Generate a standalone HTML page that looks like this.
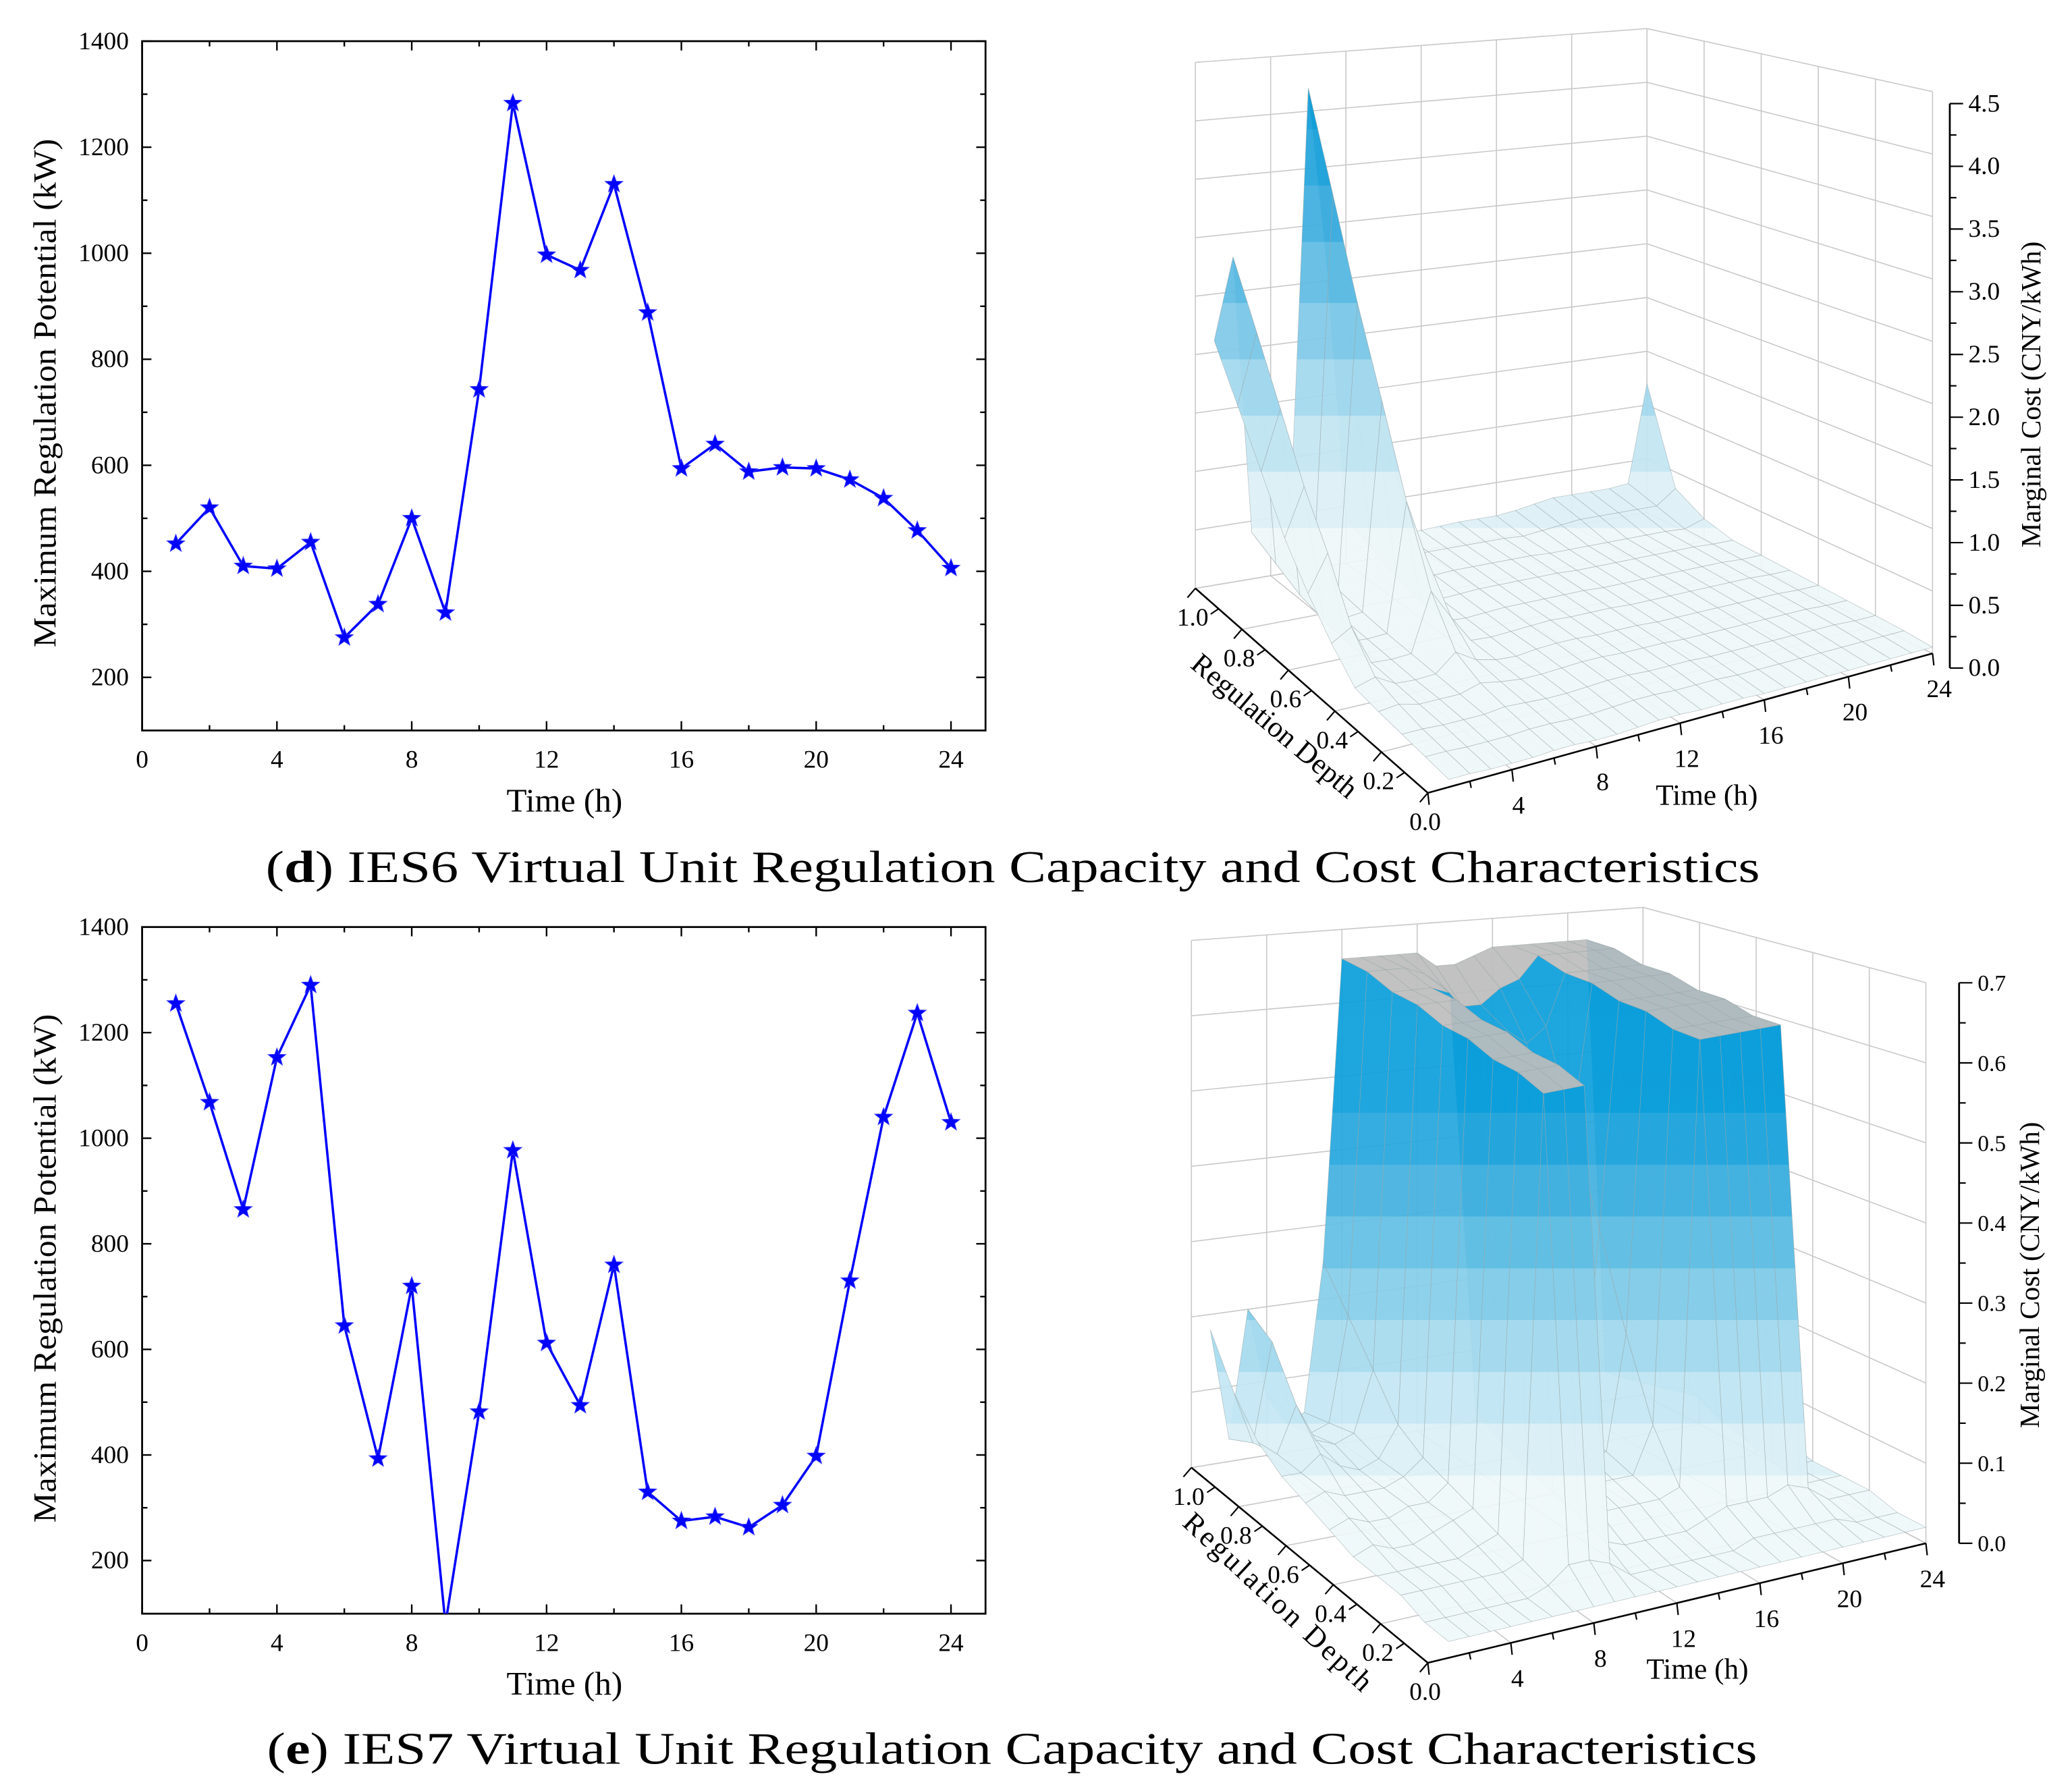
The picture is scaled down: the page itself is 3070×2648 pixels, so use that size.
<!DOCTYPE html>
<html><head><meta charset="utf-8">
<style>
html,body{margin:0;padding:0;background:#fff;}
svg{display:block;}
text{font-family:"Liberation Serif",serif;fill:#000;}
</style></head>
<body>
<svg id="fig" width="3070" height="2648" viewBox="0 0 1560 1345.5" preserveAspectRatio="none" xmlns="http://www.w3.org/2000/svg">
<defs>
<clipPath id="clipD"><rect x="107" y="31" width="635" height="519"/></clipPath>
<clipPath id="clipE"><rect x="107" y="698" width="635" height="517"/></clipPath>
<linearGradient id="gradD" gradientUnits="userSpaceOnUse" x1="0" y1="440" x2="0" y2="55">
<stop offset="0" stop-color="#eef7f8"/><stop offset="0.11" stop-color="#eef7f8"/>
<stop offset="0.11" stop-color="#dcf0f6"/><stop offset="0.22" stop-color="#dcf0f6"/>
<stop offset="0.22" stop-color="#c2e5f2"/><stop offset="0.33" stop-color="#c2e5f2"/>
<stop offset="0.33" stop-color="#a2d8ee"/><stop offset="0.44" stop-color="#a2d8ee"/>
<stop offset="0.44" stop-color="#7fc9e8"/><stop offset="0.55" stop-color="#7fc9e8"/>
<stop offset="0.55" stop-color="#5dbbe3"/><stop offset="0.67" stop-color="#5dbbe3"/>
<stop offset="0.67" stop-color="#3eaedf"/><stop offset="0.78" stop-color="#3eaedf"/>
<stop offset="0.78" stop-color="#22a4db"/><stop offset="0.89" stop-color="#22a4db"/>
<stop offset="0.89" stop-color="#119dd8"/><stop offset="1" stop-color="#119dd8"/>
</linearGradient>
<linearGradient id="gradE" gradientUnits="userSpaceOnUse" x1="0" y1="1150" x2="0" y2="760">
<stop offset="0" stop-color="#eef8f9"/><stop offset="0.1" stop-color="#eef8f9"/>
<stop offset="0.1" stop-color="#dbf0f6"/><stop offset="0.2" stop-color="#dbf0f6"/>
<stop offset="0.2" stop-color="#c2e6f3"/><stop offset="0.3" stop-color="#c2e6f3"/>
<stop offset="0.3" stop-color="#a5daee"/><stop offset="0.4" stop-color="#a5daee"/>
<stop offset="0.4" stop-color="#85cde9"/><stop offset="0.5" stop-color="#85cde9"/>
<stop offset="0.5" stop-color="#62bfe4"/><stop offset="0.6" stop-color="#62bfe4"/>
<stop offset="0.6" stop-color="#42b1e0"/><stop offset="0.7" stop-color="#42b1e0"/>
<stop offset="0.7" stop-color="#24a6dd"/><stop offset="0.8" stop-color="#24a6dd"/>
<stop offset="0.8" stop-color="#0d9fdb"/><stop offset="1" stop-color="#0a9edb"/>
</linearGradient>
</defs>
<g id="layer"></g>
<text x="200" y="664" font-size="34" textLength="1125" lengthAdjust="spacingAndGlyphs">(<tspan font-weight="bold">d</tspan>) IES6 Virtual Unit Regulation Capacity and Cost Characteristics</text>
<text x="201" y="1328" font-size="34" textLength="1122" lengthAdjust="spacingAndGlyphs">(<tspan font-weight="bold">e</tspan>) IES7 Virtual Unit Regulation Capacity and Cost Characteristics</text>
</svg>
<script>
// ---------- 2D chart data ----------
const hours = [1,2,3,4,5,6,7,8,9,10,11,12,13,14,15,16,17,18,19,20,21,22,23,24];
const capIES6 = [452,520,410,405,455,275,338,500,322,743,1283,997,968,1130,888,594,640,588,596,594,573,538,477,406];
const capIES7 = [1255,1068,865,1153,1290,645,393,720,80,482,977,612,494,760,330,275,283,263,305,398,730,1040,1237,1030];
const xTickLabels = [0,4,8,12,16,20,24];
const yTickLabels = [200,400,600,800,1000,1200,1400];

// ---------- 3D surface data (rows: regulation depth 0.0..1.0, cols: hours 1..24) ----------
const depthLevels = [0,0.1,0.2,0.3,0.4,0.5,0.6,0.7,0.8,0.9,1.0];
const costIES6 = [
[0.06,0.06,0.05,0.05,0.05,0.06,0.06,0.05,0.05,0.06,0.07,0.07,0.06,0.06,0.06,0.05,0.05,0.05,0.05,0.05,0.05,0.05,0.05,0.05],
[0.08,0.08,0.07,0.07,0.07,0.08,0.08,0.07,0.07,0.08,0.09,0.09,0.08,0.08,0.08,0.07,0.07,0.07,0.07,0.07,0.07,0.07,0.07,0.07],
[0.10,0.10,0.09,0.09,0.09,0.11,0.10,0.09,0.09,0.10,0.11,0.11,0.10,0.10,0.10,0.09,0.09,0.09,0.09,0.09,0.09,0.09,0.08,0.08],
[0.12,0.14,0.10,0.10,0.10,0.15,0.12,0.10,0.10,0.11,0.12,0.12,0.11,0.11,0.11,0.10,0.10,0.10,0.10,0.10,0.10,0.10,0.09,0.09],
[0.15,0.20,0.11,0.10,0.11,0.25,0.15,0.11,0.10,0.12,0.13,0.13,0.12,0.12,0.12,0.11,0.11,0.11,0.11,0.11,0.11,0.11,0.10,0.10],
[0.35,0.45,0.12,0.11,0.12,0.60,0.35,0.12,0.11,0.12,0.13,0.14,0.13,0.13,0.13,0.12,0.12,0.12,0.12,0.12,0.12,0.12,0.11,0.11],
[0.60,0.90,0.13,0.12,0.13,1.20,0.70,0.13,0.12,0.13,0.14,0.14,0.14,0.14,0.14,0.13,0.13,0.13,0.13,0.13,0.13,0.13,0.12,0.12],
[0.90,1.30,0.15,0.13,0.15,1.90,1.10,0.15,0.13,0.14,0.15,0.15,0.15,0.15,0.15,0.14,0.14,0.14,0.14,0.14,0.14,0.14,0.13,0.13],
[1.30,1.80,0.20,0.14,0.18,2.60,1.60,0.20,0.14,0.15,0.16,0.16,0.16,0.16,0.16,0.15,0.15,0.15,0.15,0.15,0.15,0.15,0.14,0.20],
[1.70,2.30,0.30,0.15,0.22,3.40,2.10,0.30,0.15,0.16,0.17,0.17,0.17,0.17,0.17,0.16,0.18,0.20,0.22,0.22,0.22,0.22,0.22,0.35],
[2.10,2.80,0.40,0.20,0.30,4.20,2.60,0.40,0.18,0.18,0.18,0.18,0.19,0.20,0.20,0.20,0.22,0.25,0.28,0.28,0.28,0.28,0.30,1.20]
];
const costIES7 = [
[0.02,0.02,0.02,0.02,0.02,0.02,0.02,0.02,0.02,0.02,0.02,0.02,0.02,0.02,0.02,0.02,0.02,0.02,0.02,0.02,0.02,0.02,0.02,0.02],
[0.02,0.02,0.02,0.02,0.02,0.02,0.03,0.05,0.05,0.04,0.02,0.02,0.02,0.02,0.02,0.02,0.03,0.03,0.03,0.03,0.03,0.02,0.02,0.02],
[0.03,0.03,0.03,0.03,0.03,0.03,0.04,0.62,0.62,0.62,0.04,0.03,0.03,0.03,0.03,0.04,0.05,0.05,0.05,0.06,0.05,0.03,0.03,0.03],
[0.03,0.03,0.03,0.03,0.03,0.04,0.05,0.63,0.63,0.63,0.05,0.05,0.05,0.05,0.05,0.06,0.63,0.63,0.63,0.63,0.63,0.03,0.03,0.03],
[0.03,0.04,0.03,0.03,0.04,0.05,0.06,0.63,0.63,0.63,0.06,0.06,0.06,0.06,0.06,0.12,0.63,0.63,0.63,0.63,0.63,0.04,0.03,0.03],
[0.04,0.05,0.04,0.04,0.05,0.05,0.07,0.64,0.64,0.64,0.07,0.07,0.07,0.07,0.07,0.22,0.64,0.64,0.64,0.64,0.64,0.05,0.04,0.04],
[0.05,0.06,0.05,0.05,0.05,0.06,0.08,0.64,0.64,0.64,0.08,0.08,0.08,0.08,0.08,0.34,0.64,0.64,0.64,0.64,0.64,0.06,0.05,0.05],
[0.06,0.06,0.08,0.06,0.05,0.06,0.10,0.65,0.65,0.65,0.10,0.10,0.10,0.10,0.12,0.46,0.65,0.65,0.65,0.65,0.65,0.08,0.06,0.05],
[0.08,0.06,0.12,0.07,0.06,0.07,0.15,0.65,0.65,0.65,0.64,0.60,0.58,0.58,0.56,0.58,0.65,0.65,0.65,0.65,0.65,0.06,0.05,0.05],
[0.12,0.05,0.18,0.08,0.05,0.06,0.20,0.66,0.66,0.66,0.65,0.63,0.60,0.60,0.62,0.63,0.66,0.66,0.66,0.66,0.66,0.05,0.04,0.04],
[0.18,0.03,0.20,0.08,0.04,0.05,0.25,0.66,0.66,0.66,0.66,0.66,0.64,0.64,0.65,0.66,0.66,0.66,0.66,0.66,0.66,0.04,0.03,0.03]
];
const zTicksD = [0,0.5,1,1.5,2,2.5,3,3.5,4,4.5];
const zTicksE = [0,0.1,0.2,0.3,0.4,0.5,0.6,0.7];
const timeTicks3D = [4,8,12,16,20,24];
const depthTicks3D = [0,0.2,0.4,0.6,0.8,1.0];

const NS = "http://www.w3.org/2000/svg";
const layer = document.getElementById('layer');
function el(tag, attrs, parent){
  const e = document.createElementNS(NS, tag);
  for (const k in attrs) e.setAttribute(k, attrs[k]);
  (parent||layer).appendChild(e);
  return e;
}
function starPath(cx, cy, R, r){
  let d = '';
  for (let k=0;k<10;k++){
    const a = -Math.PI/2 + k*Math.PI/5;
    const rr = k%2===0 ? R : r;
    d += (k===0?'M':'L') + (cx+rr*Math.cos(a)).toFixed(2) + ',' + (cy+rr*Math.sin(a)).toFixed(2);
  }
  return d + 'Z';
}

// ---------- 2D chart ----------
function draw2D(opt, values, tag){
  const g = el('g', {});
  
  
  const x0=107, x1=742, yTop=opt.top, yBot=opt.bottom;
  const xs = t => 107 + t*25.375;
  const ys = v => opt.y200 - (v-200)*opt.k;
  const frame = el('rect', {x:x0, y:yTop, width:x1-x0, height:yBot-yTop, fill:'none', stroke:'#000', 'stroke-width':1.4}, g);
  
  
  for (let t=0;t<=24;t+=2){
    const major = t%4===0, L = major?7:4;
    el('line', {x1:xs(t), x2:xs(t), y1:yBot, y2:yBot-L, stroke:'#000','stroke-width':1.2}, g);
    el('line', {x1:xs(t), x2:xs(t), y1:yTop, y2:yTop+L, stroke:'#000','stroke-width':1.2}, g);
  }
  xTickLabels.forEach(t => {
    const tx = el('text', {x:xs(t), y:yBot+28, 'font-size':19, 'text-anchor':'middle'}, g);
    tx.textContent = t;
    
    
  });
  for (let v=200; v<=1400; v+=100){
    const major = v%200===0, L = major?7:4;
    el('line', {x1:x0, x2:x0+L, y1:ys(v), y2:ys(v), stroke:'#000','stroke-width':1.2}, g);
    el('line', {x1:x1, x2:x1-L, y1:ys(v), y2:ys(v), stroke:'#000','stroke-width':1.2}, g);
  }
  yTickLabels.forEach(v => {
    const ty = el('text', {x:x0-10, y:ys(v)+6, 'font-size':19, 'text-anchor':'end'}, g);
    ty.textContent = v;
    
    
  });
  const xt = el('text', {x:425, y:opt.xTitleY, 'font-size':25, 'text-anchor':'middle'}, g);
  xt.textContent = 'Time (h)';
  
  
  const yt = el('text', {x:0, y:0, 'font-size':24, 'text-anchor':'middle', textLength:383, lengthAdjust:'spacingAndGlyphs', transform:'translate(42,'+opt.yTitleC+') rotate(-90)'}, g);
  yt.textContent = 'Maximum Regulation Potential (kW)';
  
  
  const cg = el('g', {'clip-path':'url(#'+opt.clip+')'}, g);
  const pts = hours.map((h,i) => xs(h).toFixed(2)+','+ys(values[i]).toFixed(2)).join(' ');
  const line = el('polyline', {points:pts, fill:'none', stroke:'#0000ff', 'stroke-width':1.8}, cg);
  
  
  hours.forEach((h,i) => {
    const s = el('path', {d:starPath(xs(h), ys(values[i]), 7, 2.9), fill:'#0000ff', stroke:'#3333ff','stroke-width':0.5}, cg);
    
    
  });
}
draw2D({top:31, bottom:550, y200:510, k:479/1200, clip:'clipD', xTitleY:611, yTitleC:296}, capIES6, 'ies6');
draw2D({top:698, bottom:1215, y200:1175, k:477/1200, clip:'clipE', xTitleY:1276, yTitleC:955}, capIES7, 'ies7');

// ---------- 3D chart ----------
function draw3D(G, Z, zTicks, tag){
  const g = el('g', {});
  
  
  const P = (t, r, z) => {
    const u = t/24, v = r;
    const w00=(1-u)*(1-v), w10=u*(1-v), w01=(1-u)*v, w11=u*v;
    const x = w00*G.c00[0]+w10*G.c10[0]+w01*G.c01[0]+w11*G.c11[0];
    const y = w00*G.c00[1]+w10*G.c10[1]+w01*G.c01[1]+w11*G.c11[1];
    const s = w00*G.s00+w10*G.s10+w01*G.s01+w11*G.s11;
    return [x, y - z*s];
  };
  const ln = (a,b,st,w) => el('line', {x1:a[0],y1:a[1],x2:b[0],y2:b[1],stroke:st,'stroke-width':w}, g);
  const zmax = G.zmax;
  for (let t=0;t<=24;t+=4){ ln(P(t,1,0),P(t,1,zmax),'#c8c8c8',0.8); ln(P(t,0,0),P(t,1,0),'#c8c8c8',0.8); }
  for (let r=0;r<=1.0001;r+=0.2){ ln(P(24,r,0),P(24,r,zmax),'#c8c8c8',0.8); ln(P(0,r,0),P(24,r,0),'#c8c8c8',0.8); }
  zTicks.forEach(z => { ln(P(0,1,z),P(24,1,z),'#c8c8c8',0.8); ln(P(24,1,z),P(24,0,z),'#c8c8c8',0.8); });
  const quads = [];
  for (let i=0;i<23;i++) for (let j=0;j<10;j++){
    quads.push({i, j, key:(i+0.5)/24 + depthLevels[j]+0.05});
  }
  quads.sort((a,b)=>b.key-a.key);
  quads.forEach(q => {
    const i=q.i, j=q.j;
    const cs = [[i,j],[i+1,j],[i+1,j+1],[i,j+1]];
    const zs = cs.map(c => Z[c[1]][c[0]]);
    const pts = cs.map(c => P(hours[c[0]], depthLevels[c[1]], Z[c[1]][c[0]]));
    const gray = G.grayAbove && Math.min(...zs) >= G.grayAbove;
    const p = el('polygon', {points:pts.map(p=>p[0].toFixed(2)+','+p[1].toFixed(2)).join(' '),
      fill: gray ? '#bdbdbd' : 'url(#'+G.grad+')', 'fill-opacity':0.92, stroke:'#9aa6a8', 'stroke-width':0.35, 'stroke-opacity':0.7}, g);
    
    
  });
  ln(P(0,0,0),P(24,0,0),'#000',1.3);
  ln(P(0,0,0),P(0,1,0),'#000',1.3);
  for (let t=0;t<=24;t+=2){ const a=P(t,0,0); ln(a,[a[0]+1,a[1]+(t%4===0?9:5)],'#000',1.1); }
  for (let r=0;r<=1.0001;r+=0.1){ const a=P(0,r,0); ln(a,[a[0]-6,a[1]+(Math.round(r*10)%2===0?7:4)],'#000',1.1); }
  timeTicks3D.forEach(t => {
    const a = P(t,0,0);
    const tx = el('text', {x:a[0]+5, y:a[1]+33, 'font-size':19, 'text-anchor':'middle'}, g);
    tx.textContent = t;
    
    
  });
  depthTicks3D.forEach(r => {
    const a = P(0,r,0);
    const tx = el('text', {x:a[0]-2, y:a[1]+28, 'font-size':19, 'text-anchor':'middle'}, g);
    tx.textContent = r.toFixed(1);
    
    
  });
  const zy = z => G.z0y - z*(G.z0y-G.ztopY)/zmax;
  ln([G.zx, zy(0)], [G.zx, zy(zmax)], '#000', 1.4);
  const step = zTicks[1]-zTicks[0];
  for (let k=0; k<=2*(zTicks.length-1); k++){
    const z = k*step/2;
    ln([G.zx, zy(z)], [G.zx+(k%2===0?10:5), zy(z)], '#000', 1.1);
  }
  zTicks.forEach(z => {
    const tx = el('text', {x:G.zx+14, y:zy(z)+6, 'font-size':G.zFont}, g);
    tx.textContent = G.fmt(z);
    
    
  });
  const zt = el('text', {x:0,y:0,'font-size':21,'text-anchor':'middle', transform:'translate('+G.zTitle[0]+','+G.zTitle[1]+') rotate(-90)'}, g);
  zt.textContent = 'Marginal Cost (CNY/kWh)';
  
  
  const tt = el('text', {x:G.tTitle[0], y:G.tTitle[1], 'font-size':22, 'text-anchor':'middle'}, g);
  tt.textContent = 'Time (h)';
  
  
  const dt = el('text', {x:0,y:0,'font-size':22,'text-anchor':'middle','letter-spacing':G.dSpacing, transform:'translate('+G.dTitle[0]+','+G.dTitle[1]+') rotate('+G.dTitle[2]+')'}, g);
  dt.textContent = 'Regulation Depth';
  
  
}
draw3D({c00:[1075,597], c10:[1455,492], c01:[900,443], c11:[1240,386], s00:96, s10:94, s01:88, s11:81,
  zmax:4.5, grad:'gradD', zx:1468, z0y:503, ztopY:78, zFont:19, fmt:z=>z.toFixed(1), zTitle:[1536,297], tTitle:[1285,606], dTitle:[955,552,40], dSpacing:0},
  costIES6, zTicksD, 'ies6');
draw3D({c00:[1075,1252], c10:[1450,1162], c01:[897,1105], c11:[1237,1050], s00:615, s10:603, s01:567, s11:524,
  zmax:0.7, grad:'gradE', grayAbove:0.6, zx:1475, z0y:1162, ztopY:740, zFont:17, fmt:z=>z.toFixed(1), zTitle:[1535,960], tTitle:[1278,1264], dTitle:[958,1212,43], dSpacing:2},
  costIES7, zTicksE, 'ies7');
</script>
</body></html>
